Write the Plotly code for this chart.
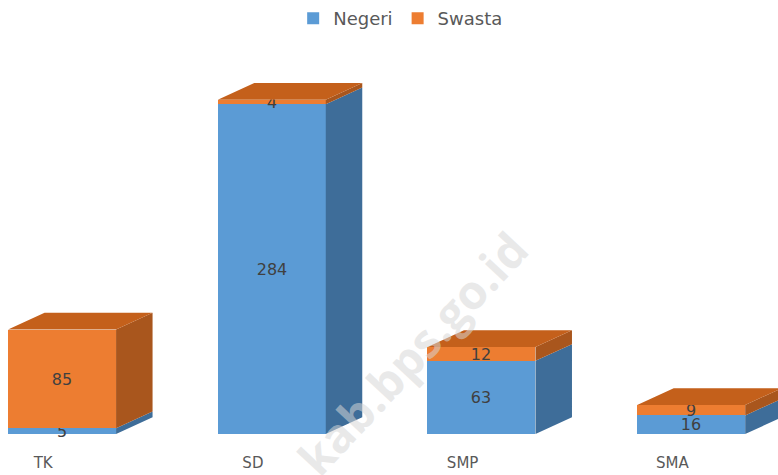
import plotly.graph_objects as go

categories = ["TK", "SD", "SMP", "SMA"]
negeri = [5, 284, 63, 16]
swasta = [85, 4, 12, 9]
series_names = ["Negeri", "Swasta"]

# styling
front_colors = ["#5B9BD5", "#ED7D31"]
side_colors = ["#3E6D99", "#A9561D"]
top_colors = ["#3E6D99", "#C4601B"]
bar_w = 0.515
dx = 0.174   # depth offset in x (data units)
dy = 14.4    # depth offset in y (data units)
label_font = "DejaVu Sans, Open Sans, sans-serif"

xs = list(range(len(categories)))
series = [negeri, swasta]

fig = go.Figure()

# front faces as stacked bars
for name, vals, col in zip(series_names, series, front_colors):
    fig.add_trace(go.Bar(
        x=xs, y=vals, name=name, width=bar_w,
        marker=dict(color=col, line=dict(width=0)),
        text=[str(v) for v in vals], texttemplate="%{text}",
        textposition="inside", insidetextanchor="middle", textangle=0,
        textfont=dict(color="#404040", size=16, family=label_font),
        constraintext="none", cliponaxis=False, hoverinfo="skip",
    ))

# side and top faces computed from data
side_x = [[], []]
side_y = [[], []]
top_x = [[], []]
top_y = [[], []]
for i in xs:
    xl = i - bar_w / 2
    xr = i + bar_w / 2
    base = 0
    last = 0
    for s, vals in enumerate(series):
        y0 = base
        y1 = base + vals[i]
        side_x[s] += [xr, xr + dx, xr + dx, xr, xr, None]
        side_y[s] += [y0, y0 + dy, y1 + dy, y1, y0, None]
        base = y1
        if vals[i] > 0:
            last = s
    top_x[last] += [xl, xl + dx, xr + dx, xr, xl, None]
    top_y[last] += [base, base + dy, base + dy, base, base, None]

for s in range(2):
    fig.add_trace(go.Scatter(x=side_x[s], y=side_y[s], fill="toself", mode="lines",
                             line=dict(width=0), fillcolor=side_colors[s],
                             showlegend=False, hoverinfo="skip"))
    if top_x[s]:
        fig.add_trace(go.Scatter(x=top_x[s], y=top_y[s], fill="toself", mode="lines",
                                 line=dict(width=0), fillcolor=top_colors[s],
                                 showlegend=False, hoverinfo="skip"))

# watermark
fig.add_annotation(text="kab.bps.go.id", x=1.67, y=70, xref="x", yref="y",
                   showarrow=False, textangle=-47,
                   font=dict(size=47, color="rgba(215,215,215,0.55)",
                             family="Open Sans, sans-serif", weight="bold"))

fig.update_layout(
    width=778, height=475,
    margin=dict(l=0, r=0, t=20, b=41),
    barmode="stack",
    bargap=0,
    plot_bgcolor="white", paper_bgcolor="white",
    uniformtext=dict(minsize=16, mode="show"),
    showlegend=True,
    legend=dict(orientation="h", x=0.515, xanchor="center", y=1.07, yanchor="top",
                font=dict(size=18, color="#595959", family=label_font),
                itemwidth=30, traceorder="normal"),
    xaxis=dict(range=[-0.296, 3.414], showgrid=False, zeroline=False, showline=False,
               tickmode="array", tickvals=[i - 0.09 for i in xs], ticktext=categories,
               ticks="", ticklabelstandoff=18,
               tickfont=dict(size=15, color="#595959", family=label_font)),
    yaxis=dict(range=[0, 349.7], showgrid=False, zeroline=False, showline=False,
               showticklabels=False, ticks=""),
)

fig.write_html("out.html", config={"displayModeBar": False},
               post_script="document.body.style.margin='0';")
